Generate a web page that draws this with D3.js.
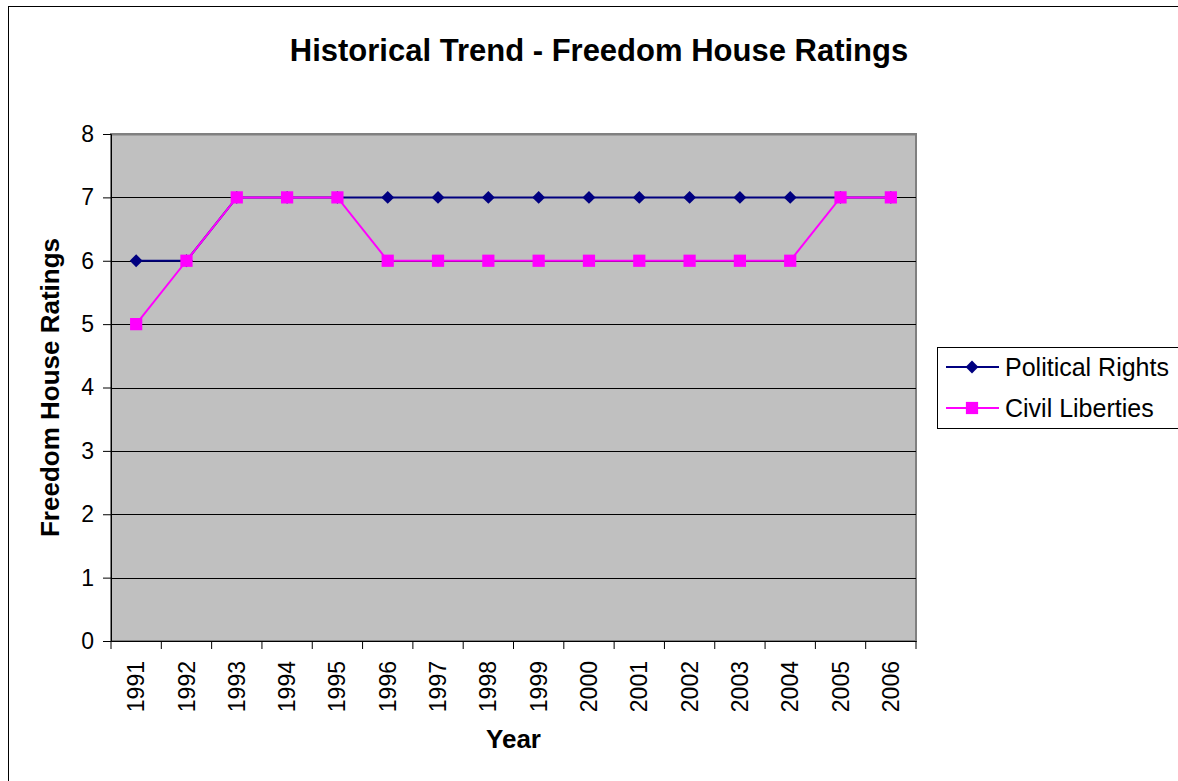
<!DOCTYPE html>
<html>
<head>
<meta charset="utf-8">
<script src="https://cdn.jsdelivr.net/npm/d3@7"></script>
<style>
	body { margin: 0; background: #fff; }
	svg { display: block; font-family: Arial, "Liberation Sans", sans-serif; }
</style>
</head>
<body>
<script>
const years = ["1991","1992","1993","1994","1995","1996","1997","1998","1999","2000","2001","2002","2003","2004","2005","2006"];
const politicalRights = [6,6,7,7,7,7,7,7,7,7,7,7,7,7,7,7];
const civilLiberties = [5,6,7,7,7,6,6,6,6,6,6,6,6,6,7,7];
const yTicks = [0,1,2,3,4,5,6,7,8];

const width = 1178, height = 781;
const margin = {top: 134, right: 262, bottom: 140, left: 111};
const font = "Arial, 'Liberation Sans', sans-serif";

const series = [
	{name: "Political Rights", values: politicalRights, color: "#000080", symbol: d3.symbolDiamond2, size: 105},
	{name: "Civil Liberties", values: civilLiberties, color: "#FF00FF", symbol: d3.symbolSquare2, size: 190}
];

const x = d3.scaleBand()
	.domain(years)
	.range([margin.left, width - margin.right]);

const y = d3.scaleLinear()
	.domain([0, 8])
	.range([height - margin.bottom, margin.top]);

const svg = d3.select("body").append("svg")
	.attr("width", width)
	.attr("height", height);

// outer chart border
svg.append("rect")
	.attr("x", 8.5).attr("y", 6.5)
	.attr("width", width).attr("height", height)
	.attr("fill", "none")
	.attr("stroke", "#000");

// plot area
svg.append("rect")
	.attr("x", margin.left).attr("y", margin.top)
	.attr("width", width - margin.right - margin.left)
	.attr("height", height - margin.bottom - margin.top)
	.attr("fill", "#C0C0C0")
	.attr("stroke", "#808080")
	.attr("stroke-width", 2);

// gridlines
svg.append("g")
	.selectAll("line")
	.data(yTicks.slice(1))
	.join("line")
		.attr("x1", margin.left).attr("x2", width - margin.right)
		.attr("y1", d => Math.round(y(d)) + 0.5).attr("y2", d => Math.round(y(d)) + 0.5)
		.attr("stroke", d => d === 8 ? "#808080" : "#000")
		.attr("stroke-width", d => d === 8 ? 2 : 1);

// y axis
const yAxis = svg.append("g")
	.attr("transform", `translate(${margin.left},0)`)
	.call(d3.axisLeft(y).tickValues(yTicks).tickSize(8).tickPadding(9).tickFormat(d3.format("d")));
yAxis.selectAll("line, path").attr("stroke", "#000");
yAxis.selectAll("text").attr("font-size", 23).attr("fill", "#000").attr("font-family", font);

// x axis
const xAxis = svg.append("g")
	.attr("transform", `translate(0,${height - margin.bottom})`)
	.call(d3.axisBottom(x).tickSize(0).tickSizeOuter(0));
xAxis.select(".domain").attr("stroke", "#000");
xAxis.selectAll("text")
	.attr("font-size", 23)
	.attr("fill", "#000")
	.attr("font-family", font)
	.attr("text-anchor", "end")
	.attr("transform", "rotate(-90)")
	.attr("x", -20)
	.attr("y", 0)
	.attr("dy", "0.35em");
xAxis.append("g")
	.selectAll("line")
	.data(years.concat(["end"]))
	.join("line")
		.attr("x1", (d, i) => margin.left + i * x.bandwidth())
		.attr("x2", (d, i) => margin.left + i * x.bandwidth())
		.attr("y1", 0).attr("y2", 8)
		.attr("stroke", "#000");

// lines and markers
const line = d3.line()
	.x((d, i) => x(years[i]) + x.bandwidth() / 2)
	.y(d => y(d));

const sg = svg.append("g")
	.selectAll("g")
	.data(series)
	.join("g");

sg.append("path")
	.attr("d", d => line(d.values))
	.attr("fill", "none")
	.attr("stroke", d => d.color)
	.attr("stroke-width", 2);

sg.selectAll("path.marker")
	.data(d => d.values.map((v, i) => ({v, i, s: d})))
	.join("path")
		.attr("class", "marker")
		.attr("transform", d => `translate(${x(years[d.i]) + x.bandwidth() / 2},${y(d.v)})`)
		.attr("d", d => d3.symbol(d.s.symbol, d.s.size)())
		.attr("fill", d => d.s.color);

// title
svg.append("text")
	.attr("x", 599).attr("y", 61)
	.attr("text-anchor", "middle")
	.attr("font-size", 31)
	.attr("font-weight", "bold")
	.text("Historical Trend - Freedom House Ratings");

// axis titles
svg.append("text")
	.attr("transform", `translate(59,${(margin.top + height - margin.bottom) / 2}) rotate(-90)`)
	.attr("text-anchor", "middle")
	.attr("font-size", 26)
	.attr("font-weight", "bold")
	.text("Freedom House Ratings");

svg.append("text")
	.attr("x", (margin.left + width - margin.right) / 2).attr("y", 748)
	.attr("text-anchor", "middle")
	.attr("font-size", 26)
	.attr("font-weight", "bold")
	.text("Year");

// legend
const legend = svg.append("g")
	.attr("transform", "translate(937,347)");

legend.append("rect")
	.attr("x", 0.5).attr("y", 0.5)
	.attr("width", 260).attr("height", 81)
	.attr("fill", "#fff")
	.attr("stroke", "#000");

const li = legend.selectAll("g")
	.data(series)
	.join("g")
		.attr("transform", (d, i) => `translate(0,${20 + i * 41})`);

li.append("line")
	.attr("x1", 9).attr("x2", 62)
	.attr("stroke", d => d.color)
	.attr("stroke-width", 2);

li.append("path")
	.attr("transform", "translate(35,0)")
	.attr("d", d => d3.symbol(d.symbol, d.size)())
	.attr("fill", d => d.color);

li.append("text")
	.attr("x", 68)
	.attr("dy", "0.35em")
	.attr("font-size", 25)
	.text(d => d.name);
</script>
</body>
</html>
